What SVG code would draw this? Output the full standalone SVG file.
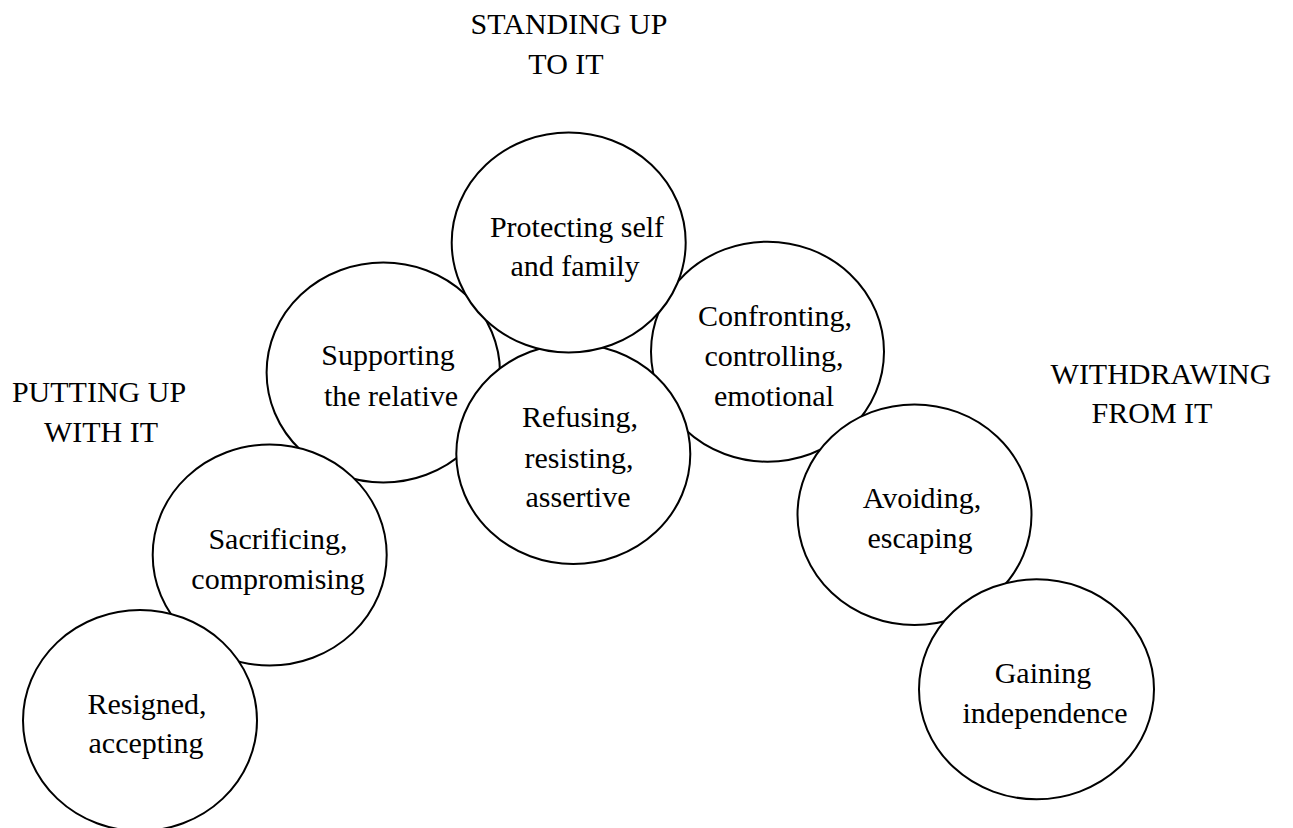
<svg xmlns="http://www.w3.org/2000/svg" width="1293" height="828" viewBox="0 0 1293 828">
<style>
.c{fill:#fff;stroke:#000;stroke-width:2}
</style>
<rect width="1293" height="828" fill="#fff"/>
<g font-family="Liberation Serif" font-size="30" fill="#000" text-anchor="middle">
<g id="titles">
<text x="569" y="34">STANDING UP</text>
<text x="566" y="74">TO IT</text>
<text x="99" y="402">PUTTING UP</text>
<text x="101" y="442">WITH IT</text>
<text x="1161" y="384">WITHDRAWING</text>
<text x="1152" y="423">FROM IT</text>
</g>
<g id="connectors"></g>
<g id="supporting">
<ellipse class="c" cx="383.3" cy="372.5" rx="116.7" ry="110"/>
<text x="388" y="365">Supporting</text>
<text x="391" y="406">the relative</text>
</g>
<g id="confronting">
<ellipse class="c" cx="767.5" cy="351.7" rx="116.5" ry="110"/>
<text x="775" y="326">Confronting,</text>
<text x="774" y="366">controlling,</text>
<text x="774" y="406">emotional</text>
</g>
<g id="refusing">
<ellipse class="c" cx="573.3" cy="454" rx="117" ry="110"/>
<text x="580" y="427">Refusing,</text>
<text x="579" y="468">resisting,</text>
<text x="578" y="507">assertive</text>
</g>
<g id="protecting">
<ellipse class="c" cx="568.7" cy="242.5" rx="117" ry="110"/>
<text x="577" y="237">Protecting self</text>
<text x="575" y="276">and family</text>
</g>
<g id="sacrificing">
<ellipse class="c" cx="269.7" cy="555" rx="117" ry="110.5"/>
<text x="278" y="549">Sacrificing,</text>
<text x="278" y="589">compromising</text>
</g>
<g id="resigned">
<ellipse class="c" cx="140" cy="720.5" rx="117" ry="110.5"/>
<text x="147" y="714">Resigned,</text>
<text x="146" y="753">accepting</text>
</g>
<g id="avoiding">
<ellipse class="c" cx="914.5" cy="514.7" rx="117" ry="110.3"/>
<text x="922" y="508">Avoiding,</text>
<text x="920" y="548">escaping</text>
</g>
<g id="gaining">
<ellipse class="c" cx="1036.5" cy="689.3" rx="117.5" ry="110"/>
<text x="1043" y="683">Gaining</text>
<text x="1045" y="723">independence</text>
</g>
</g>
</svg>
